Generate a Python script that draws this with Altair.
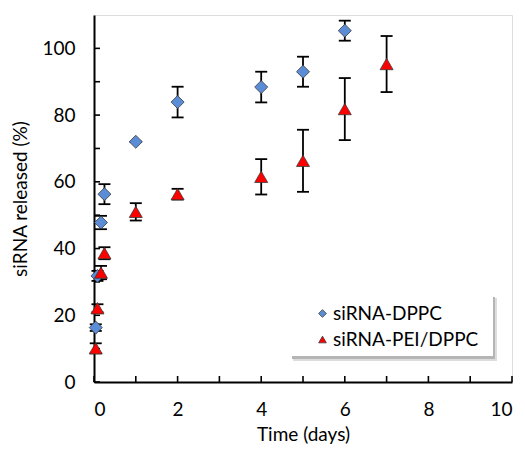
import altair as alt
import pandas as pd

# ---- data ----
dppc_t = [0.042, 0.083, 0.167, 0.25, 1, 2, 4, 5, 6]
dppc_y = [16.3, 31.8, 47.8, 56.3, 72.0, 83.9, 88.4, 93.0, 105.3]
dppc_e = [1.0, 1.5, 2.0, 3.0, 0.0, 4.6, 4.6, 4.5, 3.0]

pei_t = [0.042, 0.083, 0.167, 0.25, 1, 2, 4, 5, 6, 7]
pei_y = [10.1, 22.1, 32.8, 38.6, 51.0, 56.3, 61.5, 66.3, 81.8, 95.3]
pei_e = [1.5, 1.2, 2.0, 1.8, 2.6, 1.6, 5.3, 9.3, 9.3, 8.4]

series_names = ["siRNA-DPPC", "siRNA-PEI/DPPC"]
series_colors = ["#5A8DD5", "#FF0000"]
series_shapes = ["diamond", "triangle-up"]

x_ticks = list(range(0, 11))
y_ticks = list(range(0, 110, 10))
x_labels = [0, 2, 4, 6, 8, 10]
y_labels = [0, 20, 40, 60, 80, 100]

W, H = 418, 367
FONT = "Lato"
FS = 19

rows = []
for t, y, e in zip(dppc_t, dppc_y, dppc_e):
    rows.append({"t": t, "y": y, "lo": y - e, "hi": y + e, "s": series_names[0]})
for t, y, e in zip(pei_t, pei_y, pei_e):
    rows.append({"t": t, "y": y, "lo": y - e, "hi": y + e, "s": series_names[1]})
df = pd.DataFrame(rows)
one = pd.DataFrame({"k": [0]})

xs = alt.Scale(domain=[0, 10], nice=False)
ys = alt.Scale(domain=[0, 110], nice=False)

xax = alt.Axis(values=x_labels, ticks=False, tickSize=0, grid=False, domainColor="black",
               domainWidth=2, labelFont=FONT, labelFontSize=FS, labelColor="black",
               labelPadding=18, title="Time (days)", titleFont=FONT, titleFontSize=FS,
               titleFontWeight="normal", titleColor="black", titlePadding=6)
yax = alt.Axis(values=y_labels, ticks=False, tickSize=0, grid=False, domainColor="black",
               domainWidth=2, labelFont=FONT, labelFontSize=FS, labelColor="black",
               labelPadding=19, title="siRNA released (%)", titleFont=FONT, titleFontSize=FS,
               titleFontWeight="normal", titleColor="black", titlePadding=11)

base = alt.Chart(df)

# legend box with soft shadow (decoration)
shadow2 = alt.Chart(one).mark_rect(fill="#dddddd").encode(
    x=alt.value(199), x2=alt.value(403), y=alt.value(283), y2=alt.value(346))
shadow = alt.Chart(one).mark_rect(fill="#b5b5b5").encode(
    x=alt.value(198), x2=alt.value(401), y=alt.value(282), y2=alt.value(344))
box = alt.Chart(one).mark_rect(fill="white").encode(
    x=alt.value(196), x2=alt.value(399), y=alt.value(280), y2=alt.value(341))

err = base.mark_rule(color="black", strokeWidth=1.8).encode(
    x=alt.X("t:Q", scale=xs, axis=xax), y=alt.Y("lo:Q", scale=ys, axis=yax), y2="hi:Q")
cap_hi = base.mark_rule(color="black", strokeWidth=1.8, xOffset=-6, x2Offset=6).encode(
    x="t:Q", x2="t:Q", y="hi:Q")
cap_lo = base.mark_rule(color="black", strokeWidth=1.8, xOffset=-6, x2Offset=6).encode(
    x="t:Q", x2="t:Q", y="lo:Q")

pts = base.mark_point(filled=True, opacity=1, size=170, stroke="#3a3a3a", strokeWidth=0.8).encode(
    x="t:Q", y="y:Q",
    color=alt.Color("s:N", scale=alt.Scale(domain=series_names, range=series_colors),
                    legend=alt.Legend(title=None, orient="none", legendX=219, legendY=289,
                                      padding=0, labelFont=FONT, labelFontSize=FS,
                                      labelColor="black", symbolSize=60, rowPadding=6,
                                      labelOffset=1, symbolStrokeColor="#3a3a3a",
                                      symbolStrokeWidth=0.8, zindex=1)),
    shape=alt.Shape("s:N", scale=alt.Scale(domain=series_names, range=series_shapes)),
)

xt = pd.DataFrame({"v": x_ticks})
yt = pd.DataFrame({"v": y_ticks})
xtick = alt.Chart(xt).mark_rule(color="black", strokeWidth=1.6).encode(
    x=alt.X("v:Q", scale=xs), y=alt.value(H), y2=alt.value(H - 6))
ytick = alt.Chart(yt).mark_rule(color="black", strokeWidth=1.6).encode(
    y=alt.Y("v:Q", scale=ys), x=alt.value(0), x2=alt.value(6))

chart = alt.layer(err, cap_hi, cap_lo, xtick, ytick, shadow2, shadow, box, pts).properties(
    width=W, height=H,
    autosize=alt.AutoSizeParams(type="none"),
    padding={"left": 86, "top": 7, "right": 5, "bottom": 64},
).configure_view(stroke="black", strokeWidth=1.5).configure(background="white")

chart.save("out.html", embed_options={"renderer": "svg", "actions": False})
